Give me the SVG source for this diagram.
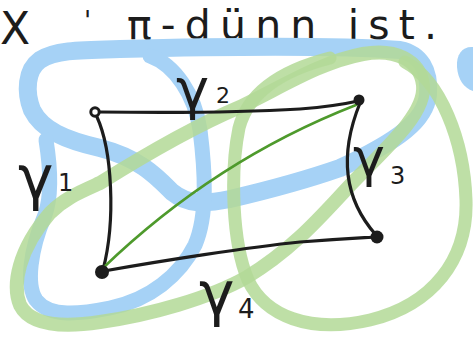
<svg xmlns="http://www.w3.org/2000/svg" width="473" height="340" viewBox="0 0 473 340">
<style>
.blue{fill:none;stroke:#a6d2f6;stroke-linecap:round;stroke-linejoin:round}
.green{fill:none;stroke:#b3d997;stroke-opacity:0.85;stroke-linecap:round;stroke-linejoin:round}
.edge{fill:none;stroke:#1c1c1c;stroke-width:3.2;stroke-linecap:round}
.diag{fill:none;stroke:#4e9a2c;stroke-width:2.6;stroke-linecap:round}
.hand{font-family:"DejaVu Sans",sans-serif;fill:#1c1c1c}
</style>
<rect width="473" height="340" fill="#ffffff"/>
<g id="title">
<text class="hand" x="0" y="44" font-size="44">X</text>
<text class="hand" x="84" y="30" font-size="26">'</text>
<text class="hand" x="127" y="39" font-size="41" textLength="310" lengthAdjust="spacing">π-dünn ist.</text>
</g>
<g id="blue-curves">
<path class="blue" stroke-width="18" d="M230,199 C205,204 188,205 172,192 C158,178 140,158 100,148 C65,140 42,130 32,110 C25,92 26,70 40,60 C55,50 80,50 120,49 C200,47 330,45 400,50 C420,54 430,70 428,95 C425,120 400,140 340,168 C300,182 260,192 230,199"/>
<path class="blue" stroke-width="15" d="M150,56 C175,65 195,95 200,130 C205,170 208,215 195,245 C180,275 150,300 110,308 C80,314 50,318 36,300 C26,285 30,250 45,215 C52,195 50,165 46,140"/>
<path fill="#a6d2f6" d="M473,47 C463,46 456,54 457,67 C458,80 464,88 473,91 Z"/>
</g>
<g id="green-curves">
<path class="green" stroke-width="14" d="M100,183 C140,158 190,128 240,107 C280,88 320,62 363,54 C395,48 420,60 423,85 C426,110 395,140 360,175 C330,205 300,245 247,277 C210,298 150,315 100,322 C60,328 30,325 20,305 C12,285 18,250 50,213 C65,198 80,192 100,183"/>
<path class="green" stroke-width="13" d="M405,62 C440,80 464,140 466,200 C468,260 432,305 370,320 C310,334 265,316 248,280 C232,242 230,172 239,128 C247,97 275,72 330,58"/>
</g>
<g id="connectors">
<path class="edge" d="M99,112 C170,113 250,112 300,109 C325,107 345,104 358,101"/>
<path class="edge" d="M97,117 C112,150 116,220 103,270"/>
<path class="edge" d="M104,271 C160,261 250,247 300,242 C340,239 360,238 376,237"/>
<path class="edge" d="M360,103 C345,140 336,190 376,235"/>
<path class="diag" d="M103,268 Q215,160 356,105"/>
</g>
<g id="v1"><circle cx="95" cy="112" r="4.2" fill="#ffffff" stroke="#1c1c1c" stroke-width="3"/></g>
<g id="v2"><circle cx="359" cy="100" r="5.5" fill="#1c1c1c"/></g>
<g id="v3"><circle cx="377" cy="237" r="6.5" fill="#1c1c1c"/></g>
<g id="v4"><circle cx="102" cy="272" r="7" fill="#1c1c1c"/></g>
<g id="labels">
<text class="hand" x="18" y="198" font-size="60">γ</text>
<text class="hand" x="58" y="191" font-size="24">1</text>
<text class="hand" x="176" y="108" font-size="56">γ</text>
<text class="hand" x="216" y="103" font-size="22">2</text>
<text class="hand" x="353" y="176" font-size="54">γ</text>
<text class="hand" x="390" y="184" font-size="24">3</text>
<text class="hand" x="199" y="314" font-size="60">γ</text>
<text class="hand" x="238" y="318" font-size="26">4</text>
</g>
</svg>
